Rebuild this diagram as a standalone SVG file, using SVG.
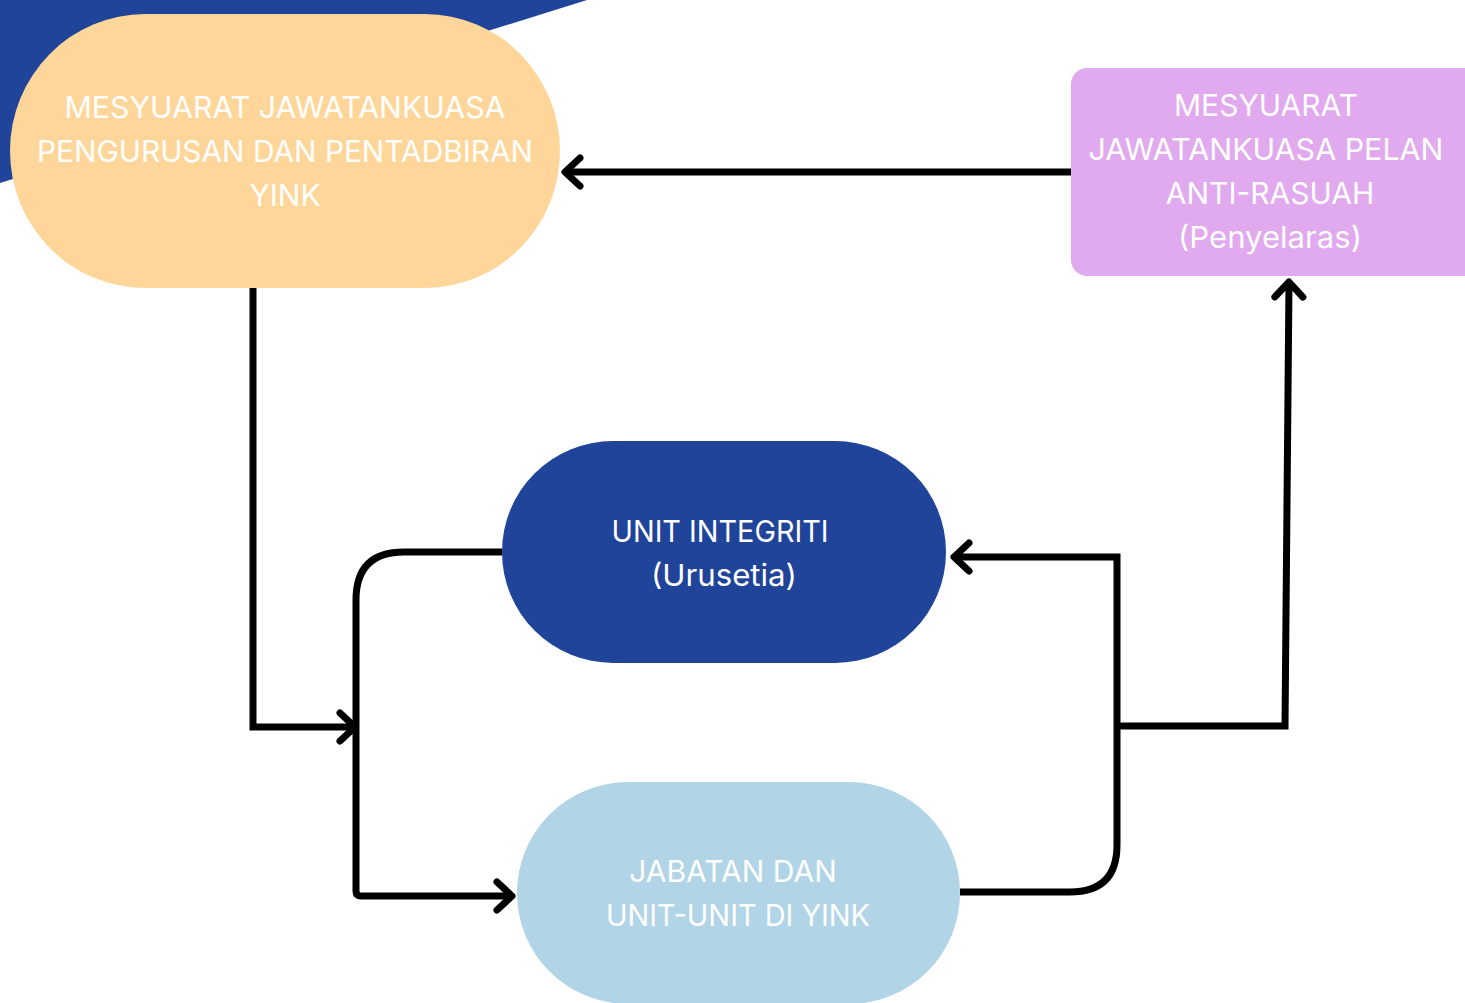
<svg xmlns="http://www.w3.org/2000/svg" width="1465" height="1003" viewBox="0 0 1465 1003">
<style>
.lbl{font-family:Inter,"Noto Sans","Liberation Sans",sans-serif;font-size:30px;fill:#ffffff;text-anchor:middle;}
.con{fill:none;stroke:#000;stroke-width:7;}
</style>
<defs>
<marker id="arr" markerUnits="userSpaceOnUse" markerWidth="40" markerHeight="40" viewBox="-20 -20 40 40" refX="0" refY="0" orient="auto" overflow="visible">
<path d="M -15 -14 L 0 0 L -15 14" fill="none" stroke="#000" stroke-width="7" stroke-linecap="round" stroke-linejoin="round"/>
</marker>
</defs>
<rect width="1465" height="1003" fill="#ffffff"/>
<polygon points="0,0 587,0 0,183" fill="#1f4499"/>

<g id="connectors">
<path class="con" d="M 1071 172 L 565 172" marker-end="url(#arr)"/>
<path class="con" d="M 253 288 L 253 727 L 355 727" marker-end="url(#arr)"/>
<path class="con" d="M 502 552 L 404 552 Q 356 552 356 600 L 356 891 Q 356 896 361 896 L 512 896" marker-end="url(#arr)"/>
<path class="con" d="M 960 892 L 1070 892 Q 1117 892 1117 845 L 1117 557 L 954 557" marker-end="url(#arr)"/>
<path class="con" d="M 1117 726 L 1285 726 L 1289 282" marker-end="url(#arr)"/>
</g>

<g id="node-mesyuarat-pengurusan">
<rect x="10" y="14" width="550" height="274" rx="135" ry="137" fill="#fed699"/>
<text class="lbl" x="285" y="118" textLength="441" lengthAdjust="spacingAndGlyphs">MESYUARAT JAWATANKUASA</text>
<text class="lbl" x="285" y="162" textLength="496" lengthAdjust="spacingAndGlyphs">PENGURUSAN DAN PENTADBIRAN</text>
<text class="lbl" x="285" y="206">YINK</text>
</g>

<g id="node-mesyuarat-pelan">
<rect x="1071" y="68" width="410" height="208" rx="16" fill="#e1a9ee"/>
<text class="lbl" x="1266" y="116">MESYUARAT</text>
<text class="lbl" x="1266" y="160" textLength="355" lengthAdjust="spacingAndGlyphs">JAWATANKUASA PELAN</text>
<text class="lbl" x="1270" y="204">ANTI-RASUAH</text>
<text class="lbl" x="1270" y="248" textLength="184" lengthAdjust="spacingAndGlyphs">(Penyelaras)</text>
</g>

<g id="node-unit-integriti">
<rect x="502" y="441" width="444" height="222" rx="111" fill="#1f4499"/>
<text class="lbl" x="720" y="542" textLength="217" lengthAdjust="spacingAndGlyphs">UNIT INTEGRITI</text>
<text class="lbl" x="724" y="586" textLength="146" lengthAdjust="spacingAndGlyphs">(Urusetia)</text>
</g>

<g id="node-jabatan">
<rect x="517" y="782" width="443" height="222" rx="111" fill="#b1d4e6"/>
<text class="lbl" x="733" y="882">JABATAN DAN</text>
<text class="lbl" x="738" y="926" textLength="264" lengthAdjust="spacingAndGlyphs">UNIT-UNIT DI YINK</text>
</g>
</svg>
